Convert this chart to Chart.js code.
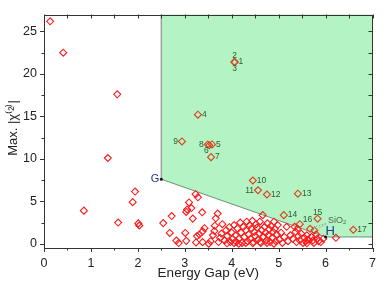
<!DOCTYPE html>
<html><head><meta charset="utf-8">
<script src="https://cdn.jsdelivr.net/npm/chart.js@4/dist/chart.umd.min.js"></script>
<style>html,body{margin:0;padding:0;background:#fff}canvas{display:block}</style>
</head><body>
<canvas id="c" width="384" height="285"></canvas>
<script>
// ---- data ----
const gapX = [0.13,0.41,1.56,1.36,0.85,1.58,1.94,1.89,2.01,2.03,
  3.23,3.28,3.09,3.14,3.05,3.03,3.37,2.72,3.17,2.54,3.42,3.38,2.68,3.01,3.31,3.26,2.82,2.87,3.03,3.24,3.38,3.51,
  3.55,3.6,3.63,3.64,3.66,3.7,3.72,3.75,3.78,3.8,3.85,3.88,3.9,3.95,3.97,4.0,4.02,
  4.05,4.08,4.1,4.12,4.15,4.18,4.2,4.22,4.25,4.27,4.3,4.32,4.34,4.36,4.38,4.4,4.42,4.44,4.46,4.48,4.5,4.52,4.54,
  4.56,4.58,4.6,4.62,4.64,4.66,4.68,4.7,4.72,4.74,4.76,4.78,4.8,4.82,4.84,4.86,4.88,4.9,4.92,4.94,4.96,4.98,
  5.02,5.05,5.08,5.12,5.17,5.2,5.25,5.3,5.34,5.36,5.38,5.4,5.42,5.45,5.48,
  5.52,5.55,5.58,5.6,5.63,5.7,5.73,5.8,5.82,5.85,5.9,5.95,6.22,
  4.15,4.3,4.45,4.6,4.75,4.9,5.6,5.75,3.9,4.05];
const chiY = [26.2,22.5,17.6,10.1,3.9,2.5,6.15,4.9,2.4,2.15,
  5.84,5.47,4.87,4.2,4.04,3.75,3.7,3.26,2.96,2.43,1.83,1.46,1.27,1.27,1.09,0.9,0.37,0.08,0.34,0.15,0.19,0.0,
  0.3,1.0,1.5,2.13,3.0,3.56,0.2,0.7,1.2,2.3,0.4,1.6,0.9,1.95,0.2,1.3,0.6,
  2.2,1.0,0.2,1.8,0.6,2.5,1.3,0.1,2.0,0.8,1.6,2.6,0.3,1.1,2.2,0.6,1.8,2.7,0.2,1.4,0.9,2.3,1.9,
  0.5,1.2,2.6,0.1,1.6,3.37,0.8,2.0,1.3,0.4,2.4,1.0,1.7,0.2,2.1,0.7,1.4,2.6,1.76,0.3,1.1,2.2,
  0.5,1.3,0.1,0.8,2.0,0.3,1.0,0.6,2.0,1.4,0.2,1.76,0.9,0.4,1.2,
  0.1,0.7,0.3,1.0,0.5,0.8,0.4,1.1,0.6,0.3,0.2,0.6,0.7,
  0.0,0.1,0.05,0.2,0.1,0.0,0.05,0.1,0.05,0.1];
const candX = [4.06,4.06,4.06,3.28,3.58,3.52,3.56,3.49,2.94,4.45,4.56,4.75,5.41,5.11,5.83,5.45,6.59];
const candY = [21.4,21.4,21.4,15.2,11.7,11.6,10.2,11.7,12.05,7.45,6.3,5.8,5.9,3.37,2.95,2.3,1.65];
const candLabels = ['1','2','3','4','5','6','7','8','9','10','11','12','13','14','15','16','17'];
const sio2X = [5.67,5.76];
const sio2Y = [1.76,1.57];
const boundaryX = [2.5,2.5,6.0,7,7];
const boundaryY = [27,7.6,0.8,0.8,27];
const markNames = ['G','H'];
const markX = [2.5,6.0];
const markY = [7.6,0.8];
const xTickVals = [0,1,2,3,4,5,6,7];
const yTickVals = [0,5,10,15,20,25];

// ---- styles ----
const labelPos = {'1':'r','2':'t','3':'b','4':'r','5':'r','6':'bl','7':'r','8':'l','9':'l','10':'r','11':'l','12':'r','13':'r','14':'r','15':'t','16':'tr','17':'r'};
const FONT = '"Liberation Sans", Arial, sans-serif';

const decor = {
  id:'decor',
  beforeDatasetsDraw(chart){
    const {ctx, scales:{x,y}} = chart;
    const px = boundaryX.map(v=>x.getPixelForValue(v));
    const py = boundaryY.map(v=>y.getPixelForValue(v));
    ctx.save();
    ctx.beginPath();
    ctx.moveTo(px[0],py[0]);
    for(let i=1;i<px.length;i++) ctx.lineTo(px[i],py[i]);
    ctx.closePath();
    ctx.fillStyle = '#b4f3c3';
    ctx.fill();
    ctx.lineWidth = 1.5;
    ctx.strokeStyle = '#a0a0a0';
    ctx.beginPath(); ctx.moveTo(px[0],py[0]); ctx.lineTo(px[1],py[1]); ctx.stroke();
    ctx.lineWidth = 1;
    ctx.strokeStyle = '#6f8f78';
    ctx.beginPath(); ctx.moveTo(px[1],py[1]); ctx.lineTo(px[2],py[2]); ctx.lineTo(px[3],py[3]); ctx.stroke();
    ctx.restore();
  },
  afterDatasetsDraw(chart){
    const {ctx, chartArea:a, scales:{x,y}} = chart;
    ctx.save();
    // frame
    ctx.strokeStyle = '#333'; ctx.lineWidth = 1;
    ctx.strokeRect(Math.round(a.left)+0.5, Math.round(a.top)+0.5, Math.round(a.right-a.left)-1, Math.round(a.bottom-a.top)-1);
    ctx.beginPath();
    for(let v=0; v<=7.001; v+=0.5){
      const X = Math.round(x.getPixelForValue(v))+0.5;
      const major = Math.abs(v-Math.round(v))<1e-6;
      ctx.moveTo(X,a.bottom); ctx.lineTo(X,a.bottom+(major?4:2.5));
      ctx.moveTo(X,a.top); ctx.lineTo(X,a.top+4);
    }
    for(let v=0; v<=27; v+=2.5){
      const Y = Math.round(y.getPixelForValue(v))+0.5;
      const major = Math.abs(v/5-Math.round(v/5))<1e-6;
      ctx.moveTo(a.left,Y); ctx.lineTo(a.left-(major?4:2.5),Y);
      ctx.moveTo(a.right,Y); ctx.lineTo(a.right-4,Y);
    }
    ctx.stroke();
    // candidate labels
    ctx.font = '8.5px '+FONT;
    ctx.fillStyle = '#2c5a34';
    candLabels.forEach((t,i)=>{
      const X = x.getPixelForValue(candX[i]), Y = y.getPixelForValue(candY[i]);
      const p = labelPos[t];
      let tx=X, ty=Y;
      if(p==='r'){ctx.textAlign='left';ctx.textBaseline='middle';tx=X+4;}
      else if(p==='l'){ctx.textAlign='right';ctx.textBaseline='middle';tx=X-4;}
      else if(p==='t'){ctx.textAlign='center';ctx.textBaseline='bottom';ty=Y-2;}
      else if(p==='b'){ctx.textAlign='center';ctx.textBaseline='top';ty=Y+2;}
      else if(p==='bl'){ctx.textAlign='right';ctx.textBaseline='top';tx=X-0.5;ty=Y+1;}
      else if(p==='tr'){ctx.textAlign='left';ctx.textBaseline='bottom';tx=X+3;ty=Y;}
      ctx.fillText(t,tx,ty);
    });
    // SiO2
    const sx = x.getPixelForValue(6.05), sy = y.getPixelForValue(2.75);
    ctx.strokeStyle = '#9aa69a'; ctx.setLineDash([1.5,1.5]);
    ctx.beginPath();
    sio2X.forEach((v,i)=>{ ctx.moveTo(sx-2, sy+3+i); ctx.lineTo(x.getPixelForValue(v)+2, y.getPixelForValue(sio2Y[i])-1); });
    ctx.stroke(); ctx.setLineDash([]);
    ctx.fillStyle = '#4f6a52';
    ctx.font = '9px '+FONT; ctx.textAlign='left'; ctx.textBaseline='middle';
    ctx.fillText('SiO', sx, sy);
    const w = ctx.measureText('SiO').width;
    ctx.font = '6px '+FONT; ctx.fillText('2', sx+w, sy+2);
    // G, H
    markNames.forEach((n,i)=>{
      const X = x.getPixelForValue(markX[i]), Y = y.getPixelForValue(markY[i]);
      ctx.fillStyle = '#111';
      ctx.beginPath(); ctx.arc(X,Y,1.5,0,Math.PI*2); ctx.fill();
      ctx.fillStyle = '#1d3c8c';
      if(n==='G'){ ctx.font='11px '+FONT; ctx.textAlign='right'; ctx.textBaseline='middle'; ctx.fillText(n,X-2,Y); }
      else { ctx.font='13px '+FONT; ctx.textAlign='left'; ctx.textBaseline='bottom'; ctx.fillText(n,X+0,Y+1); }
    });
    // axis titles
    ctx.fillStyle = '#222';
    ctx.font = '13.5px '+FONT; ctx.textAlign='center'; ctx.textBaseline='middle';
    ctx.fillText('Energy Gap (eV)', (a.left+a.right)/2, 273);
    ctx.translate(13, 128); ctx.rotate(-Math.PI/2);
    ctx.font = '13px '+FONT;
    ctx.fillText('Max. |χ⁽²⁾|', 0, 0);
    ctx.restore();
  }
};

new Chart(document.getElementById('c'), {
  type:'scatter',
  data:{datasets:[
    {data: gapX.map((v,i)=>({x:v,y:chiY[i]})), pointStyle:'rectRot', radius:3.5, borderWidth:1.1,
     borderColor:'#ff1a1a', backgroundColor:'rgba(255,255,255,0)'},
    {data: candX.map((v,i)=>({x:v,y:candY[i]})), pointStyle:'rectRot', radius:3.5, borderWidth:1.1,
     borderColor:'#d9441f', backgroundColor:'rgba(0,0,0,0)'},
    {data: sio2X.map((v,i)=>({x:v,y:sio2Y[i]})), pointStyle:'rectRot', radius:3.5, borderWidth:1.1,
     borderColor:'#d9441f', backgroundColor:'rgba(0,0,0,0)'}
  ]},
  options:{
    responsive:false, animation:false, devicePixelRatio:1,
    layout:{padding:{top:4,right:7,left:0,bottom:0}},
    plugins:{legend:{display:false}, tooltip:{enabled:false}},
    scales:{
      x:{type:'linear', min:0, max:7,
        afterBuildTicks(s){ s.ticks = xTickVals.map(v=>({value:v})); },
        afterFit(s){ s.height = 37; },
        grid:{display:false, drawTicks:false}, border:{display:false},
        ticks:{padding:8, color:'#222', font:{family:FONT,size:12.5}}},
      y:{type:'linear', min:-0.5, max:27,
        afterBuildTicks(s){ s.ticks = yTickVals.map(v=>({value:v})); },
        afterFit(s){ s.width = 44; },
        grid:{display:false, drawTicks:false}, border:{display:false},
        ticks:{padding:7, color:'#222', font:{family:FONT,size:12.5}}}
    }
  },
  plugins:[decor]
});
</script>
</body></html>
